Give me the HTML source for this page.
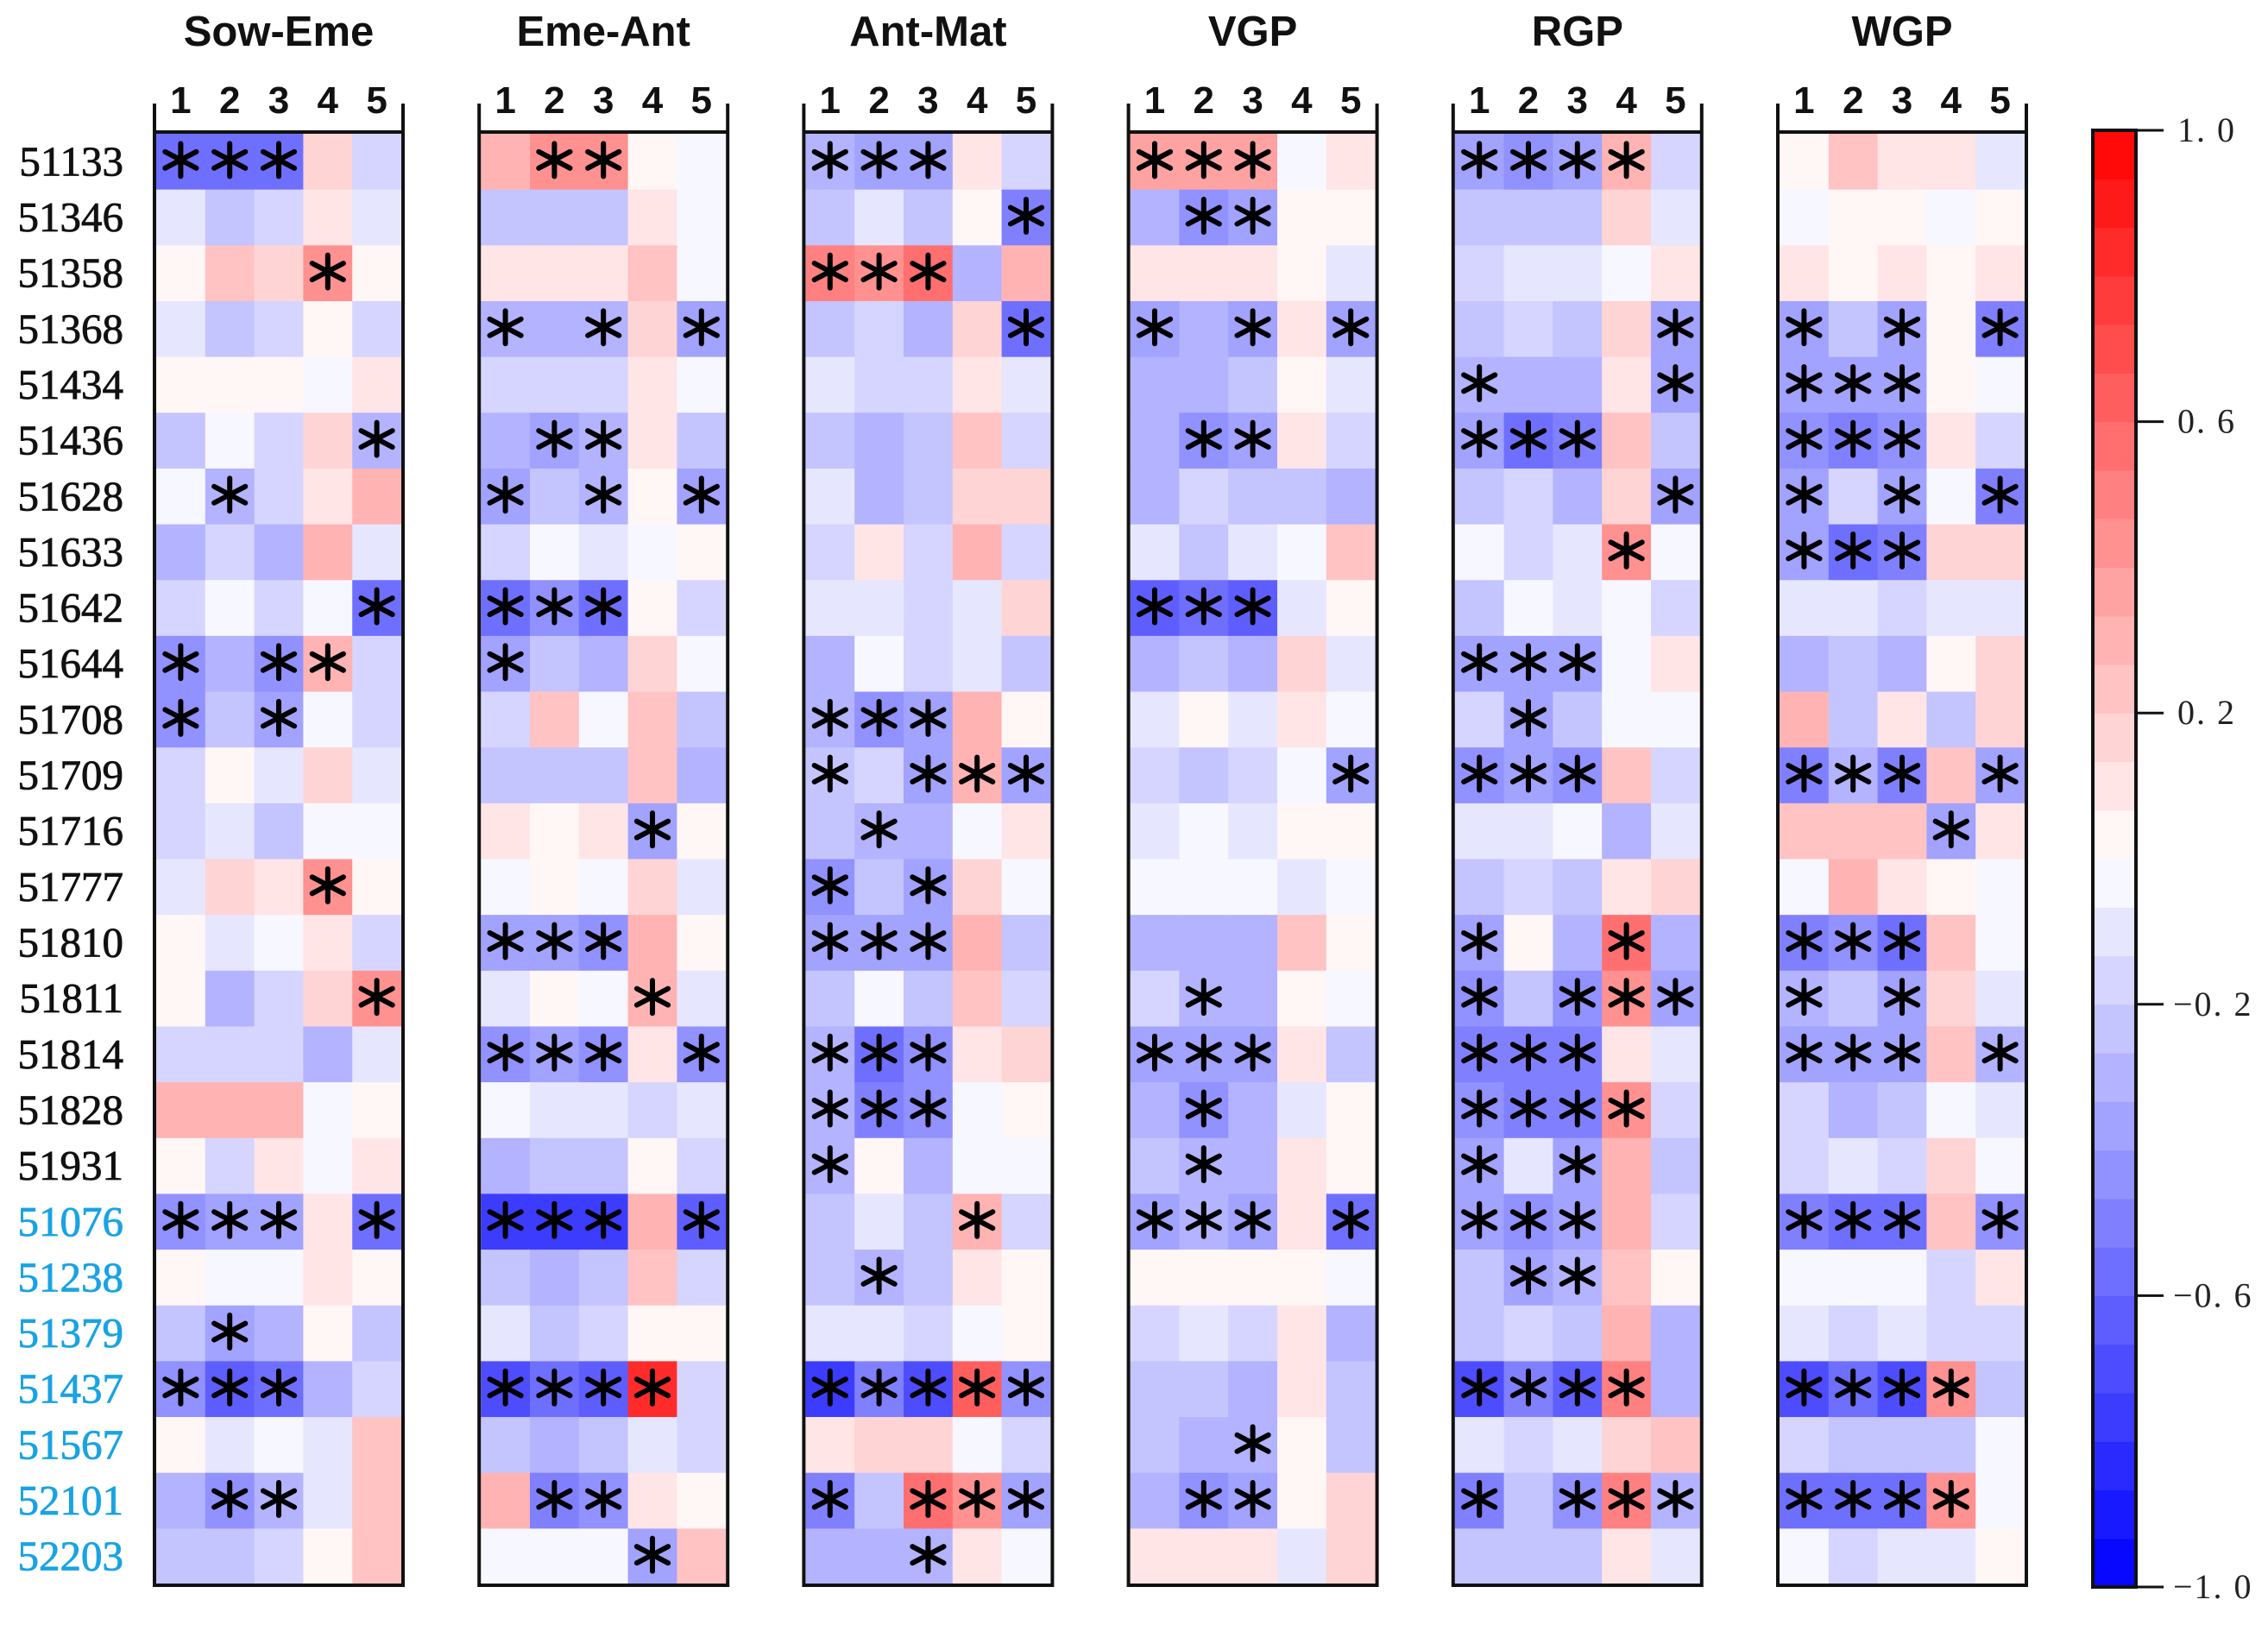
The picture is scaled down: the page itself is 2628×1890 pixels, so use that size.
<!DOCTYPE html>
<html><head><meta charset="utf-8"><title>Heatmap</title>
<style>html,body{margin:0;padding:0;background:#fff;}svg{display:block;}</style></head>
<body>
<svg id="chart" width="2628" height="1890" viewBox="0 0 2628 1890" xmlns="http://www.w3.org/2000/svg">
<g id="labels"></g>
<g id="panels"></g>
<g id="cbar"></g>
</svg>
<script>
const panelTitles = ["Sow-Eme","Eme-Ant","Ant-Mat","VGP","RGP","WGP"];
const rowLabels = ["51133","51346","51358","51368","51434","51436","51628","51633","51642","51644","51708","51709","51716","51777","51810","51811","51814","51828","51931","51076","51238","51379","51437","51567","52101","52203"];
const highlightFrom = 19;
const colLabels = ["1","2","3","4","5"];
const cbarTicks = [1.0,0.6,0.2,-0.2,-0.6,-1.0];
const cbarTickText = ["1. 0","0. 6","0. 2","\u22120. 2","\u22120. 6","\u22121. 0"];

const valuesSowEme = [
[-0.55,-0.55,-0.6,0.17,-0.17],[-0.12,-0.24,-0.17,0.11,-0.12],[0.04,0.25,0.17,0.45,0.04],[-0.12,-0.24,-0.17,0.04,-0.17],[0.04,0.04,0.04,-0.04,0.11],
[-0.24,-0.04,-0.17,0.17,-0.31],[-0.04,-0.31,-0.17,0.11,0.3],[-0.31,-0.17,-0.31,0.3,-0.12],[-0.17,-0.04,-0.17,-0.04,-0.55],[-0.45,-0.31,-0.45,0.27,-0.17],
[-0.45,-0.24,-0.4,-0.04,-0.17],[-0.17,0.04,-0.12,0.17,-0.12],[-0.17,-0.12,-0.24,-0.04,-0.04],[-0.12,0.17,0.11,0.45,0.04],[0.04,-0.12,-0.04,0.11,-0.17],
[0.04,-0.31,-0.17,0.17,0.45],[-0.2,-0.2,-0.2,-0.31,-0.12],[0.3,0.33,0.33,-0.04,0.04],[0.04,-0.17,0.11,-0.04,0.11],[-0.45,-0.4,-0.4,0.11,-0.55],
[0.04,-0.04,-0.04,0.11,0.04],[-0.24,-0.4,-0.31,0.04,-0.24],[-0.45,-0.62,-0.6,-0.31,-0.17],[0.04,-0.12,-0.04,-0.12,0.25],[-0.31,-0.45,-0.31,-0.12,0.2],
[-0.24,-0.24,-0.17,0.04,0.25]];
const starsSowEme = ["11100","00000","00010","00000","00000","00001","01000","00000","00001","10110","10100","00000","00000","00010","00000","00001","00000","00000","00000","11101","00000","01000","11100","00000","01100","00000"];

const valuesEmeAnt = [
[0.33,0.4,0.4,0.04,-0.04],[-0.24,-0.24,-0.24,0.11,-0.04],[0.11,0.11,0.11,0.25,-0.04],[-0.31,-0.31,-0.31,0.17,-0.38],[-0.17,-0.17,-0.17,0.11,-0.04],
[-0.31,-0.4,-0.31,0.11,-0.24],[-0.35,-0.24,-0.31,0.04,-0.4],[-0.17,-0.04,-0.12,-0.04,0.04],[-0.6,-0.45,-0.6,0.04,-0.17],[-0.38,-0.24,-0.31,0.17,-0.04],
[-0.17,0.2,-0.04,0.25,-0.24],[-0.24,-0.24,-0.24,0.25,-0.31],[0.11,0.04,0.11,-0.38,0.04],[-0.04,0.04,-0.04,0.17,-0.12],[-0.4,-0.4,-0.45,0.33,0.04],
[-0.12,0.04,-0.04,0.33,-0.12],[-0.45,-0.35,-0.45,0.11,-0.45],[-0.04,-0.12,-0.12,-0.17,-0.12],[-0.31,-0.24,-0.24,0.04,-0.17],[-0.75,-0.75,-0.75,0.3,-0.65],
[-0.24,-0.31,-0.24,0.25,-0.17],[-0.12,-0.24,-0.17,0.04,0.04],[-0.72,-0.6,-0.65,0.8,-0.17],[-0.24,-0.31,-0.24,-0.12,-0.17],[0.33,-0.5,-0.45,0.11,0.04],
[-0.04,-0.04,-0.04,-0.38,0.25]];
const starsEmeAnt = ["01100","00000","00000","10101","00000","01100","10101","00000","11100","10000","00000","00000","00010","00000","11100","00010","11101","00000","00000","11101","00000","00000","11110","00000","01100","00010"];

const valuesAntMat = [
[-0.31,-0.4,-0.35,0.11,-0.17],[-0.24,-0.12,-0.24,0.04,-0.5],[0.5,0.45,0.55,-0.31,0.33],[-0.24,-0.17,-0.31,0.17,-0.6],[-0.12,-0.17,-0.17,0.11,-0.12],
[-0.24,-0.31,-0.24,0.25,-0.17],[-0.12,-0.31,-0.24,0.17,0.17],[-0.17,0.11,-0.17,0.33,-0.17],[-0.12,-0.12,-0.17,-0.12,0.17],[-0.31,-0.04,-0.17,-0.12,-0.24],
[-0.31,-0.45,-0.35,0.33,0.04],[-0.24,-0.17,-0.38,0.33,-0.4],[-0.24,-0.31,-0.31,-0.04,0.11],[-0.45,-0.24,-0.38,0.17,-0.04],[-0.38,-0.38,-0.38,0.33,-0.24],
[-0.24,-0.04,-0.24,0.25,-0.17],[-0.31,-0.6,-0.45,0.11,0.17],[-0.31,-0.5,-0.45,-0.04,0.04],[-0.31,0.04,-0.31,-0.04,-0.04],[-0.24,-0.12,-0.24,0.33,-0.17],
[-0.24,-0.31,-0.24,0.11,0.04],[-0.12,-0.12,-0.17,-0.04,0.04],[-0.75,-0.5,-0.7,0.6,-0.45],[0.11,0.17,0.17,-0.04,-0.17],[-0.5,-0.24,0.55,0.4,-0.38],
[-0.31,-0.31,-0.31,0.11,-0.04]];
const starsAntMat = ["11100","00001","11100","00001","00000","00000","00000","00000","00000","00000","11100","10111","01000","10100","11100","00000","11100","11100","10000","00010","01000","00000","11111","00000","10111","00100"];

const valuesVGP = [
[0.35,0.35,0.35,-0.04,0.11],[-0.31,-0.45,-0.38,0.04,0.04],[0.11,0.11,0.11,0.04,-0.12],[-0.38,-0.31,-0.38,0.11,-0.4],[-0.31,-0.31,-0.24,0.04,-0.12],
[-0.31,-0.45,-0.38,0.11,-0.17],[-0.31,-0.17,-0.24,-0.24,-0.31],[-0.12,-0.24,-0.12,-0.04,0.25],[-0.62,-0.55,-0.65,-0.12,0.04],[-0.31,-0.24,-0.31,0.17,-0.12],
[-0.12,0.04,-0.12,0.11,-0.04],[-0.17,-0.24,-0.17,-0.04,-0.4],[-0.12,-0.04,-0.12,0.04,0.04],[-0.04,-0.04,-0.04,-0.12,-0.04],[-0.31,-0.31,-0.31,0.25,0.04],
[-0.17,-0.31,-0.31,0.04,-0.04],[-0.38,-0.38,-0.38,0.11,-0.24],[-0.31,-0.45,-0.31,-0.12,0.04],[-0.24,-0.31,-0.31,0.11,0.04],[-0.38,-0.31,-0.38,0.11,-0.55],
[0.04,0.04,0.04,0.04,-0.04],[-0.17,-0.12,-0.17,0.11,-0.31],[-0.24,-0.24,-0.31,0.11,-0.24],[-0.24,-0.31,-0.31,0.04,-0.24],[-0.31,-0.45,-0.38,0.04,0.17],
[0.11,0.11,0.11,-0.12,0.17]];
const starsVGP = ["11100","01100","00000","10101","00000","01100","00000","00000","11100","00000","00000","00001","00000","00000","00000","01000","11100","01000","01000","11101","00000","00000","00000","00100","01100","00000"];

const valuesRGP = [
[-0.38,-0.45,-0.38,0.3,-0.17],[-0.24,-0.24,-0.24,0.17,-0.12],[-0.17,-0.12,-0.12,-0.04,0.11],[-0.24,-0.17,-0.24,0.17,-0.4],[-0.31,-0.31,-0.31,0.11,-0.4],
[-0.4,-0.6,-0.5,0.25,-0.24],[-0.24,-0.17,-0.31,0.17,-0.38],[-0.04,-0.17,-0.12,0.45,-0.04],[-0.24,-0.04,-0.12,-0.04,-0.17],[-0.38,-0.38,-0.38,-0.04,0.11],
[-0.17,-0.38,-0.24,-0.04,-0.04],[-0.45,-0.38,-0.45,0.25,-0.17],[-0.12,-0.12,-0.04,-0.31,-0.12],[-0.24,-0.17,-0.24,0.11,0.17],[-0.38,0.04,-0.31,0.57,-0.31],
[-0.45,-0.24,-0.45,0.45,-0.4],[-0.5,-0.5,-0.5,0.11,-0.12],[-0.45,-0.5,-0.5,0.4,-0.17],[-0.38,-0.12,-0.38,0.3,-0.24],[-0.4,-0.45,-0.4,0.27,-0.17],
[-0.24,-0.38,-0.31,0.25,0.04],[-0.24,-0.17,-0.24,0.3,-0.31],[-0.72,-0.5,-0.65,0.5,-0.31],[-0.12,-0.17,-0.12,0.17,0.25],[-0.5,-0.24,-0.45,0.5,-0.31],
[-0.24,-0.24,-0.24,0.11,-0.12]];
const starsRGP = ["11110","00000","00000","00001","10001","11100","00001","00010","00000","11100","01000","11100","00000","00000","10010","10111","11100","11110","10100","11100","01100","00000","11110","00000","10111","00000"];

const valuesWGP = [
[0.04,0.25,0.11,0.11,-0.12],[-0.04,0.04,0.04,-0.04,0.04],[0.11,0.04,0.11,0.04,0.11],[-0.4,-0.24,-0.38,0.04,-0.5],[-0.38,-0.38,-0.38,0.04,-0.04],
[-0.45,-0.5,-0.45,0.11,-0.17],[-0.38,-0.17,-0.38,-0.04,-0.5],[-0.38,-0.6,-0.5,0.17,0.17],[-0.12,-0.12,-0.17,-0.12,-0.12],[-0.31,-0.24,-0.31,0.04,0.17],
[0.3,-0.24,0.11,-0.24,0.17],[-0.5,-0.31,-0.5,0.25,-0.38],[0.2,0.2,0.25,-0.38,0.11],[-0.04,0.27,0.11,0.04,-0.04],[-0.5,-0.45,-0.6,0.25,-0.04],
[-0.31,-0.24,-0.38,0.17,-0.12],[-0.4,-0.4,-0.4,0.25,-0.31],[-0.17,-0.31,-0.24,-0.04,-0.12],[-0.17,-0.12,-0.17,0.17,-0.04],[-0.5,-0.55,-0.55,0.25,-0.45],
[-0.04,-0.04,-0.04,-0.17,0.11],[-0.12,-0.17,-0.12,-0.17,-0.17],[-0.72,-0.55,-0.72,0.45,-0.24],[-0.17,-0.24,-0.24,-0.24,-0.04],[-0.55,-0.55,-0.55,0.45,-0.04],
[-0.04,-0.17,-0.12,-0.12,0.04]];
const starsWGP = ["00000","00000","00000","10101","11100","11100","10101","11100","00000","00000","00000","11101","00010","00000","11100","10100","11101","00000","00000","11101","00000","00000","11110","00000","11110","00000"];

const panelValues = [valuesSowEme,valuesEmeAnt,valuesAntMat,valuesVGP,valuesRGP,valuesWGP];
const panelStars = [starsSowEme,starsEmeAnt,starsAntMat,starsVGP,starsRGP,starsWGP];

const NS = "http://www.w3.org/2000/svg";
function mk(tag, attrs, parent){const e=document.createElementNS(NS,tag);for(const k in attrs)e.setAttribute(k,attrs[k]);parent.appendChild(e);return e;}

const TOP=155, BOT=1836, PW=290, P0=178, PSTEP=376.2;
const nRows=rowLabels.length, nCols=colLabels.length;
const rowH=(BOT-TOP)/nRows;
const yOf = r => TOP + r*rowH;
const xOf = (p,c) => P0 + p*PSTEP + 3 + c*((PW-6)/nCols);
const cellW=(PW-6)/nCols;

function color(v){
  const steps=30;
  let k=Math.floor((v+1)/2*steps); if(k>=steps)k=steps-1; if(k<0)k=0;
  const c=-1+(k+0.5)*2/steps;
  let r,g,b;
  if(c<0){r=g=Math.round(255*(1+c));b=255;} else {r=255;g=b=Math.round(255*(1-c));}
  return `rgb(${r},${g},${b})`;
}

const labelsG=document.getElementById('labels');
rowLabels.forEach((lab,r)=>{
  const col=r>=highlightFrom?'#19a3e3':'#111';
  const t=mk('text',{x:143,y:yOf(r)+rowH/2+16,'text-anchor':'end','font-family':'"Liberation Serif", serif','font-size':49,fill:col,stroke:col,'stroke-width':0.8},labelsG);
  
  
  t.textContent=lab;
});

const panelsG=document.getElementById('panels');
panelTitles.forEach((title,p)=>{
  const g=mk('g',{},panelsG);
  
  
  const left=P0+p*PSTEP;
  const tt=mk('text',{x:left+PW/2,y:53,'text-anchor':'middle','font-family':'"Liberation Sans", sans-serif','font-weight':'bold','font-size':49,fill:'#111'},g);
  
  
  tt.textContent=title;
  colLabels.forEach((cl,c)=>{
    const t=mk('text',{x:xOf(p,c)+cellW/2,y:131,'text-anchor':'middle','font-family':'"Liberation Sans", sans-serif','font-weight':'bold','font-size':44,fill:'#111'},g);
    
    
    t.textContent=cl;
  });
  const vals=panelValues[p], st=panelStars[p];
  for(let r=0;r<nRows;r++){
    for(let c=0;c<nCols;c++){
      const rc=mk('rect',{x:xOf(p,c),y:yOf(r),width:cellW+0.6,height:rowH+0.6,fill:color(vals[r][c])},g);
      
      
      if(st[r][c]==='1'){
        const cx=xOf(p,c)+cellW/2, cy=yOf(r)+rowH/2-2;
        const a=mk('g',{stroke:'#000','stroke-width':6,'stroke-linecap':'round'},g);
        
        
        [90,30,150].forEach(ang=>{
          const rad=ang*Math.PI/180, L=19;
          mk('line',{x1:cx-L*Math.cos(rad)*1.1,y1:cy-L*Math.sin(rad),x2:cx+L*Math.cos(rad)*1.1,y2:cy+L*Math.sin(rad)},a);
        });
      }
    }
  }
  const fr=mk('g',{stroke:'#111','stroke-width':4,fill:'none'},g);
  
  
  mk('line',{x1:left+1,y1:120,x2:left+1,y2:BOT+3},fr);
  mk('line',{x1:left+PW-1,y1:120,x2:left+PW-1,y2:BOT+3},fr);
  mk('line',{x1:left,y1:TOP-2,x2:left+PW,y2:TOP-2},fr);
  mk('line',{x1:left,y1:BOT+1,x2:left+PW,y2:BOT+1},fr);
});

const cb=document.getElementById('cbar');
const CBX=2425, CBW=50, CBT=151, CBB=1839;
const cy = v => CBB - (v+1)/2*(CBB-CBT);
for(let k=0;k<30;k++){
  const v0=-1+k*2/30, v1=-1+(k+1)*2/30;
  const r=mk('rect',{x:CBX,y:cy(v1),width:CBW,height:cy(v0)-cy(v1)+0.6,fill:color((v0+v1)/2)},cb);
  
  
}
mk('rect',{x:CBX,y:CBT,width:CBW,height:CBB-CBT,fill:'none',stroke:'#111','stroke-width':4},cb);
cbarTicks.forEach((v,i)=>{
  const l=mk('line',{x1:CBX+CBW,y1:cy(v),x2:CBX+CBW+32,y2:cy(v),stroke:'#111','stroke-width':3},cb);
  
  
  const t=mk('text',{x:v<0?2518:2523,y:cy(v)+13,'font-family':'"Liberation Serif", serif','font-size':40,'letter-spacing':'2',fill:'#222'},cb);
  
  
  t.textContent=cbarTickText[i];
});
</script>
</body></html>
